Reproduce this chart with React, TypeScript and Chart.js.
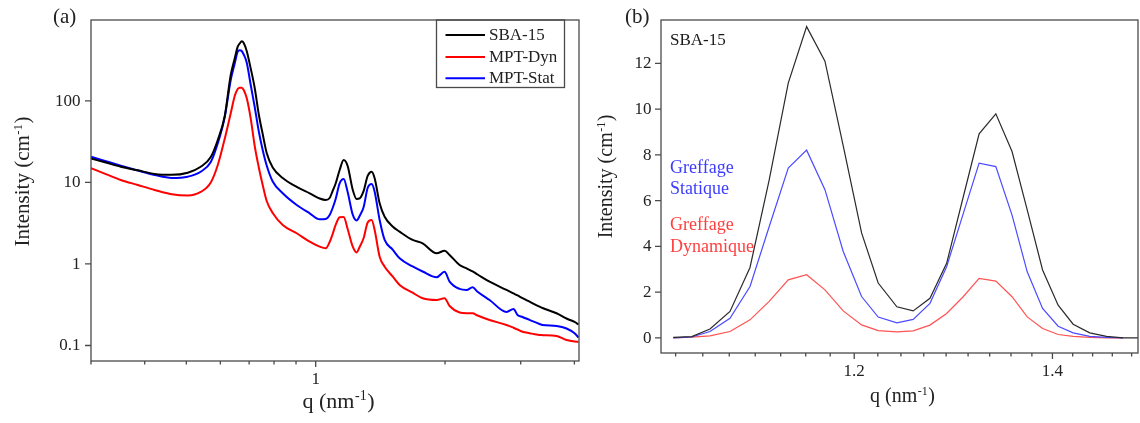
import React, { useEffect, useRef } from 'react';
import { Chart, registerables } from 'chart.js';

Chart.register(...registerables);

const FONT = "'Liberation Serif', 'Times New Roman', serif";
const AXIS_COLOR = '#4a4a4a';
const TEXT_COLOR = '#222222';

// ---------- Panel (a): log-log SAXS curves ----------
const qA = [0.300, 0.3248, 0.3519, 0.3855, 0.4221, 0.4626, 0.5039, 0.5401, 0.5700, 0.5918, 0.6143, 0.6343, 0.6480, 0.6585, 0.6656, 0.6728, 0.6800, 0.6910, 0.7060, 0.7213, 0.7369, 0.7528, 0.7691, 0.7943, 0.8381, 0.9033, 0.9684, 1.0217, 1.0550, 1.0778, 1.0952, 1.1129, 1.1370, 1.1618, 1.1869, 1.2191, 1.2455, 1.2657, 1.2931, 1.3211, 1.3497, 1.3716, 1.4088, 1.4472, 1.5105, 1.5681, 1.6810, 1.7737, 1.9119, 1.9953, 2.0495, 2.1619, 2.2446, 2.3180, 2.3809, 2.5387, 2.7806, 2.8868, 2.9494, 3.0296, 3.1453, 3.3183, 3.3721, 3.6355, 3.8350, 4.0031, 4.0898];

const sba15A = [19.67, 17.51, 15.60, 14.07, 12.70, 12.38, 13.17, 15.56, 20.51, 33.16, 65.28, 207.8, 330.1, 461.9, 505.7, 539.6, 512.9, 409.2, 249.6, 144.0, 69.1, 39.28, 22.97, 15.26, 11.34, 8.80, 7.36, 6.36, 6.09, 6.45, 7.86, 9.71, 14.21, 18.85, 15.91, 8.20, 6.27, 6.37, 7.86, 12.00, 13.51, 11.24, 5.55, 3.80, 2.88, 2.49, 1.97, 1.79, 1.35, 1.456, 1.29, 0.972, 0.881, 0.809, 0.743, 0.607, 0.480, 0.435, 0.411, 0.381, 0.345, 0.2996, 0.2887, 0.2486, 0.2146, 0.1944, 0.1812];

const mptDynA = [14.92, 12.66, 10.72, 9.30, 8.08, 7.16, 6.92, 7.64, 9.99, 16.37, 34.4, 70.5, 114.9, 139.9, 145.2, 145.2, 136.0, 108.5, 60.84, 27.99, 15.47, 9.30, 5.92, 4.22, 3.01, 2.38, 1.877, 1.630, 1.557, 1.861, 2.333, 3.01, 3.74, 3.77, 2.69, 1.639, 1.384, 1.616, 2.084, 3.23, 3.46, 2.61, 1.229, 0.927, 0.703, 0.553, 0.444, 0.380, 0.362, 0.380, 0.305, 0.254, 0.2486, 0.2486, 0.2335, 0.2057, 0.1786, 0.1651, 0.1573, 0.1478, 0.1417, 0.1347, 0.1341, 0.1310, 0.1170, 0.1121, 0.1115];

const mptStatA = [20.69, 18.22, 16.05, 14.01, 12.34, 11.34, 11.77, 13.51, 17.81, 30.21, 63.47, 180.4, 286.7, 401.2, 417.4, 409.2, 370.7, 295.8, 156.7, 84.2, 42.75, 25.0, 16.14, 10.27, 7.36, 5.29, 4.18, 3.53, 3.56, 3.99, 4.86, 6.27, 9.76, 11.02, 7.64, 4.05, 3.42, 3.88, 5.00, 8.55, 9.57, 7.70, 3.46, 1.97, 1.50, 1.175, 0.932, 0.809, 0.687, 0.804, 0.607, 0.494, 0.480, 0.518, 0.457, 0.362, 0.258, 0.281, 0.237, 0.224, 0.206, 0.1837, 0.1786, 0.1737, 0.1618, 0.1413, 0.1255];

const xMajorTicksA = [1];
const xMajorLabelsA = ['1'];
const xMinorTicksA = [0.3, 0.4, 0.5, 0.6, 0.7, 0.8, 0.9, 2, 3, 4];
const yMajorTicksA = [0.1, 1, 10, 100];
const yMajorLabelsA = ['0.1', '1', '10', '100'];
const legendLabelsA = ['SBA-15', 'MPT-Dyn', 'MPT-Stat'];

// ---------- Panel (b): zoom on the (110)/(200) peaks ----------
const qB = [1.0425, 1.0576, 1.0727, 1.0895, 1.1066, 1.1232, 1.1400, 1.1564, 1.1730, 1.1898, 1.2069, 1.2226, 1.2405, 1.2563, 1.2728, 1.2894, 1.3061, 1.3224, 1.3397, 1.3567, 1.3728, 1.3893, 1.4062, 1.4227, 1.4412, 1.4601, 1.4790, 1.4985];
const sba15B = [0.02, 0.06, 0.39, 1.16, 3.08, 6.9, 11.14, 13.61, 12.1, 8.4, 4.59, 2.40, 1.36, 1.18, 1.73, 3.26, 6.15, 8.92, 9.80, 8.15, 5.6, 2.97, 1.43, 0.60, 0.22, 0.07, 0.0, 0.0];
const statiqueB = [0.0, 0.04, 0.28, 0.86, 2.25, 4.86, 7.43, 8.21, 6.48, 3.78, 1.81, 0.91, 0.66, 0.81, 1.51, 3.11, 5.42, 7.64, 7.49, 5.37, 2.89, 1.29, 0.51, 0.22, 0.07, 0.02, 0.0, null];
const dynamiqueB = [0.0, 0.03, 0.09, 0.28, 0.79, 1.6, 2.54, 2.76, 2.10, 1.18, 0.57, 0.32, 0.26, 0.31, 0.56, 1.07, 1.80, 2.60, 2.48, 1.80, 0.92, 0.41, 0.15, 0.07, 0.02, 0.0, 0.0, null];

const xMajorTicksB = [1.2, 1.4];
const xMajorLabelsB = ['1.2', '1.4'];
const xMinorTicksB = [1.0444, 1.0667, 1.0889, 1.1111, 1.1333, 1.1556, 1.1778, 1.2222, 1.2444, 1.2667, 1.2889, 1.3111, 1.3333, 1.3556, 1.3778, 1.4222, 1.4444, 1.4667, 1.4889];
const yMajorTicksB = [0, 2, 4, 6, 8, 10, 12];
const yMajorLabelsB = ['0', '2', '4', '6', '8', '10', '12'];
const annotationTextsB = ['SBA-15', 'Greffage', 'Statique', 'Greffage', 'Dynamique'];

function pts(xs: number[], ys: (number | null)[]) {
  return xs.map((x, i) => ({ x, y: ys[i] }));
}

function drawSupTitle(
  ctx: CanvasRenderingContext2D, cx: number, cy: number, rotate: boolean,
  size: number, pre: string, sup: string, post: string,
) {
  ctx.save();
  ctx.translate(cx, cy);
  if (rotate) ctx.rotate(-Math.PI / 2);
  ctx.fillStyle = TEXT_COLOR;
  ctx.textAlign = 'left';
  ctx.textBaseline = 'alphabetic';
  const ss = Math.round(size * 0.62);
  ctx.font = `${size}px ${FONT}`;
  const w1 = ctx.measureText(pre).width;
  const w3 = ctx.measureText(post).width;
  ctx.font = `${ss}px ${FONT}`;
  const w2 = ctx.measureText(sup).width;
  const x0 = -(w1 + w2 + w3) / 2;
  const by = size * 0.26;
  ctx.font = `${size}px ${FONT}`;
  ctx.fillText(pre, x0, by);
  ctx.font = `${ss}px ${FONT}`;
  ctx.fillText(sup, x0 + w1 + 0.5, by - size * 0.36);
  ctx.font = `${size}px ${FONT}`;
  ctx.fillText(post, x0 + w1 + w2 + 1, by);
  ctx.restore();
}

type AxesCfg = {
  xMajor: number[]; xMajorLabels: string[]; xMinor: number[];
  yMajor: number[]; yMajorLabels: string[];
  tickFont: number; yLabelGap: number; xLabelOffset: number;
  xTitle: { cx: number; cy: number; size: number };
  yTitle: { cx: number; cy: number; size: number };
  extra: (ctx: CanvasRenderingContext2D, chart: any) => void;
};

function makeAxesPlugin(id: string, cfg: AxesCfg) {
  return {
    id,
    afterDraw(chart: any) {
      const ctx: CanvasRenderingContext2D = chart.ctx;
      const { left, right, top, bottom } = chart.chartArea;
      const xs = chart.scales.x;
      const ys = chart.scales.y;
      ctx.save();
      ctx.strokeStyle = AXIS_COLOR;
      ctx.lineWidth = 1.3;
      ctx.strokeRect(left, top, right - left, bottom - top);
      ctx.beginPath();
      cfg.xMajor.forEach((v) => {
        const p = xs.getPixelForValue(v);
        ctx.moveTo(p, bottom); ctx.lineTo(p, bottom + 6);
      });
      cfg.xMinor.forEach((v) => {
        const p = xs.getPixelForValue(v);
        ctx.moveTo(p, bottom); ctx.lineTo(p, bottom + 3.5);
      });
      cfg.yMajor.forEach((v) => {
        const p = ys.getPixelForValue(v);
        ctx.moveTo(left, p); ctx.lineTo(left - 6, p);
      });
      ctx.stroke();
      ctx.fillStyle = TEXT_COLOR;
      ctx.font = `${cfg.tickFont}px ${FONT}`;
      ctx.textAlign = 'center';
      ctx.textBaseline = 'middle';
      cfg.xMajor.forEach((v, i) => {
        ctx.fillText(cfg.xMajorLabels[i], xs.getPixelForValue(v), bottom + cfg.xLabelOffset);
      });
      ctx.textAlign = 'right';
      cfg.yMajor.forEach((v, i) => {
        ctx.fillText(cfg.yMajorLabels[i], left - cfg.yLabelGap, ys.getPixelForValue(v) + 0.5);
      });
      drawSupTitle(ctx, cfg.xTitle.cx, cfg.xTitle.cy, false, cfg.xTitle.size, 'q (nm', '-1', ')');
      drawSupTitle(ctx, cfg.yTitle.cx, cfg.yTitle.cy, true, cfg.yTitle.size, 'Intensity (cm', '-1', ')');
      cfg.extra(ctx, chart);
      ctx.restore();
    },
  };
}

export default function App() {
  const refA = useRef<HTMLCanvasElement>(null);
  const refB = useRef<HTMLCanvasElement>(null);

  useEffect(() => {
    const colorsA = ['#000000', '#ff0000', '#0000ff'];
    const pluginA = makeAxesPlugin('axesA', {
      xMajor: xMajorTicksA, xMajorLabels: xMajorLabelsA, xMinor: xMinorTicksA,
      yMajor: yMajorTicksA, yMajorLabels: yMajorLabelsA,
      tickFont: 17, yLabelGap: 10.5, xLabelOffset: 19,
      xTitle: { cx: 338, cy: 402, size: 22 },
      yTitle: { cx: 24, cy: 182, size: 21 },
      extra: (ctx, chart) => {
        ctx.fillStyle = TEXT_COLOR;
        ctx.textAlign = 'left';
        ctx.textBaseline = 'alphabetic';
        ctx.font = `21px ${FONT}`;
        ctx.fillText('(a)', 53, 23);
        // legend box
        ctx.strokeStyle = AXIS_COLOR;
        ctx.lineWidth = 1.3;
        ctx.strokeRect(436.5, 20, 128, 67.5);
        const rows = [35, 57, 78.3];
        ctx.font = `17px ${FONT}`;
        ctx.textBaseline = 'middle';
        chart.data.datasets.forEach((ds: any, i: number) => {
          ctx.strokeStyle = ds.borderColor;
          ctx.lineWidth = 2;
          ctx.beginPath();
          ctx.moveTo(445.5, rows[i]);
          ctx.lineTo(485, rows[i]);
          ctx.stroke();
          ctx.fillStyle = TEXT_COLOR;
          ctx.fillText(ds.label, 489, rows[i] + 0.5);
        });
      },
    });

    const chartA = new Chart(refA.current!, {
      type: 'line',
      data: {
        datasets: [
          { label: legendLabelsA[0], data: pts(qA, sba15A), borderColor: colorsA[0] },
          { label: legendLabelsA[1], data: pts(qA, mptDynA), borderColor: colorsA[1] },
          { label: legendLabelsA[2], data: pts(qA, mptStatA), borderColor: colorsA[2] },
        ].map((d) => ({ ...d, borderWidth: 2, pointRadius: 0, cubicInterpolationMode: 'monotone' as const, fill: false })),
      },
      options: {
        animation: false,
        responsive: false,
        devicePixelRatio: 1,
        layout: { padding: { left: 91, right: 11, top: 20, bottom: 62 } },
        plugins: { legend: { display: false }, tooltip: { enabled: false } },
        scales: {
          x: { type: 'logarithmic', min: 0.3, max: 4.1, display: false },
          y: { type: 'logarithmic', min: 0.0646, max: 981, display: false },
        },
      },
      plugins: [pluginA],
    } as any);

    const colorsB = ['#2a2a2a', '#4b4bff', '#ff5252'];
    const pluginB = makeAxesPlugin('axesB', {
      xMajor: xMajorTicksB, xMajorLabels: xMajorLabelsB, xMinor: xMinorTicksB,
      yMajor: yMajorTicksB, yMajorLabels: yMajorLabelsB,
      tickFont: 17, yLabelGap: 9.5, xLabelOffset: 19,
      xTitle: { cx: 312, cy: 397, size: 20 },
      yTitle: { cx: 16.5, cy: 177, size: 20 },
      extra: (ctx) => {
        ctx.textAlign = 'left';
        ctx.textBaseline = 'alphabetic';
        ctx.fillStyle = TEXT_COLOR;
        ctx.font = `21px ${FONT}`;
        ctx.fillText('(b)', 35, 23);
        ctx.font = `17px ${FONT}`;
        ctx.fillStyle = '#1a1a1a';
        ctx.fillText(annotationTextsB[0], 80, 44.7);
        ctx.font = `18px ${FONT}`;
        ctx.fillStyle = '#3c3cff';
        ctx.fillText(annotationTextsB[1], 80, 173);
        ctx.fillText(annotationTextsB[2], 80, 194);
        ctx.fillStyle = '#ff4040';
        ctx.fillText(annotationTextsB[3], 80, 230);
        ctx.fillText(annotationTextsB[4], 80, 252);
      },
    });

    const chartB = new Chart(refB.current!, {
      type: 'line',
      data: {
        datasets: [
          { label: 'SBA-15', data: pts(qB, sba15B), borderColor: colorsB[0] },
          { label: 'Greffage Statique', data: pts(qB, statiqueB), borderColor: colorsB[1] },
          { label: 'Greffage Dynamique', data: pts(qB, dynamiqueB), borderColor: colorsB[2] },
        ].map((d) => ({ ...d, borderWidth: 1.2, pointRadius: 0, tension: 0, fill: false })),
      },
      options: {
        animation: false,
        responsive: false,
        devicePixelRatio: 1,
        layout: { padding: { left: 71, right: 2, top: 20, bottom: 70 } },
        plugins: { legend: { display: false }, tooltip: { enabled: false } },
        scales: {
          x: { type: 'logarithmic', min: 1.0326, max: 1.4963, display: false },
          y: { type: 'linear', min: -0.66, max: 13.9, display: false },
        },
      },
      plugins: [pluginB],
    } as any);

    return () => {
      chartA.destroy();
      chartB.destroy();
    };
  }, []);

  return (
    <div style={{ position: 'absolute', left: 0, top: 0, width: 1140, height: 423, background: '#ffffff' }}>
      <canvas ref={refA} width={590} height={423} style={{ position: 'absolute', left: 0, top: 0, width: 590, height: 423 }} />
      <canvas ref={refB} width={550} height={423} style={{ position: 'absolute', left: 590, top: 0, width: 550, height: 423 }} />
    </div>
  );
}
